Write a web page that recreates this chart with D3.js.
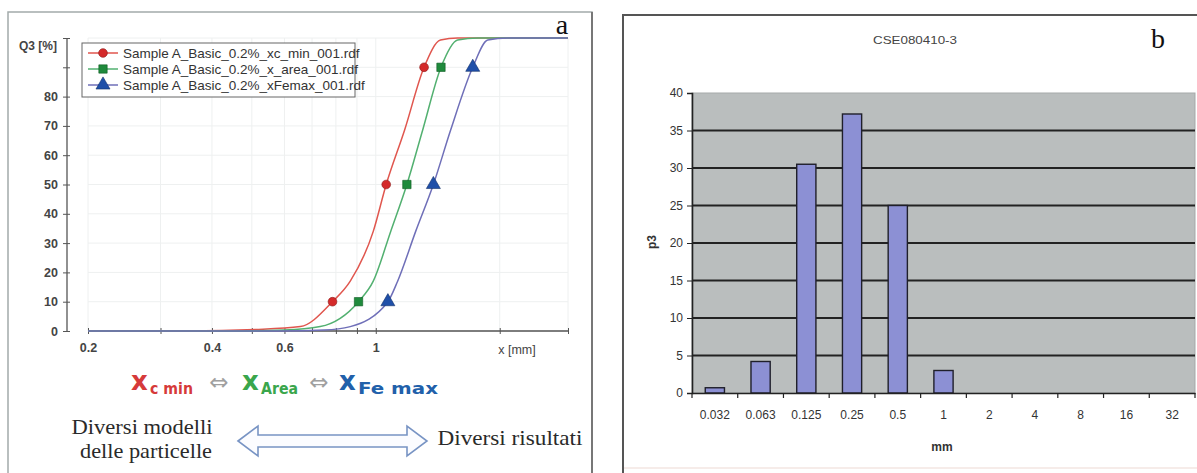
<!DOCTYPE html>
<html>
<head>
<meta charset="utf-8">
<script src="https://cdn.jsdelivr.net/npm/d3@7"></script>
<style>
  body { margin: 0; background: #fff; }
  svg { display: block; }
</style>
</head>
<body>
<div id="chart"></div>
<script>
// ---- panel a : cumulative curves Q3 vs x (log) ----
var legendNames = ["Sample A_Basic_0.2%_xc_min_001.rdf",
                   "Sample A_Basic_0.2%_x_area_001.rdf",
                   "Sample A_Basic_0.2%_xFemax_001.rdf"];
var q3Ticks = [0, 10, 20, 30, 40, 50, 60, 70, 80, 90, 100];
var sizeTicks = [0.2, 0.3, 0.4, 0.5, 0.6, 0.7, 0.8, 0.9, 1, 2, 2.93];
var sizeLabels = [0.2, 0.4, 0.6, 1];

// [x mm, Q3 %]
var xcMin = [[0.2, 0], [0.35, 0], [0.51, 0.5], [0.656, 1.5], [0.785, 10], [0.867, 17], [0.986, 34],
             [1.06, 50], [1.175, 68.6], [1.31, 90], [1.436, 99.3], [1.58, 100], [2.93, 100]];
var xArea = [[0.2, 0], [0.443, 0], [0.6, 0.3], [0.733, 1.5], [0.908, 10], [0.986, 17], [1.087, 34],
             [1.19, 50], [1.30, 68.6], [1.44, 90], [1.58, 99.3], [1.77, 100], [2.93, 100]];
var xFemax = [[0.2, 0], [0.586, 0], [0.75, 0.3], [0.867, 1.5], [1.07, 10], [1.13, 17], [1.25, 34],
              [1.38, 50], [1.52, 68.6], [1.72, 90], [1.87, 99.3], [2.09, 100], [2.93, 100]];
var markerQ3 = [10, 50, 90];
var markXcMin = [0.785, 1.06, 1.31];
var markXArea = [0.908, 1.19, 1.44];
var markXFemax = [1.07, 1.38, 1.72];

// ---- panel b : histogram p3 ----
var binLabels = ["0.032", "0.063", "0.125", "0.25", "0.5", "1", "2", "4", "8", "16", "32"];
var p3Values = [0.7, 4.2, 30.5, 37.2, 25, 3, 0, 0, 0, 0, 0];
var p3Ticks = [0, 5, 10, 15, 20, 25, 30, 35, 40];

var W = 1197, H = 473;
var svg = d3.select("#chart").append("svg")
    .attr("width", W)
    .attr("height", H);

var sans = "'Liberation Sans', Arial, sans-serif";
var serif = "'Liberation Serif', 'Times New Roman', serif";

// frames
svg.append("rect").attr("x", 8).attr("y", 12).attr("width", 584).attr("height", 480)
    .attr("fill", "#fff").attr("stroke", "#a3abab").attr("stroke-width", 1.5);
svg.append("line").attr("x1", 592).attr("x2", 592).attr("y1", 12).attr("y2", H)
    .attr("stroke", "#777").attr("stroke-width", 2);
svg.append("rect").attr("x", 623).attr("y", 15).attr("width", 600).attr("height", 480)
    .attr("fill", "#fff").attr("stroke", "#555").attr("stroke-width", 2);
svg.append("line").attr("x1", 624).attr("x2", W).attr("y1", 468).attr("y2", 468)
    .attr("stroke", "#f3e6e2").attr("stroke-width", 1.5);

// ================= panel a =================
var x = d3.scaleLog().domain([0.2, 2.93]).range([88, 568]);
var y = d3.scaleLinear().domain([0, 100]).range([331, 38]);

var ga = svg.append("g");

// faint grid
ga.append("g").selectAll("line").data(sizeTicks).enter().append("line")
    .attr("x1", function(d) { return x(d); }).attr("x2", function(d) { return x(d); })
    .attr("y1", y(100)).attr("y2", y(0))
    .attr("stroke", "#eef0f0");
ga.append("g").selectAll("line").data(q3Ticks).enter().append("line")
    .attr("x1", x(0.2)).attr("x2", x(2.93))
    .attr("y1", function(d) { return y(d); }).attr("y2", function(d) { return y(d); })
    .attr("stroke", "#eef0f0");

// axes
var yAxA = ga.append("g").attr("transform", "translate(67,0)")
    .call(d3.axisLeft(y).tickValues(q3Ticks).tickSize(4).tickPadding(5)
        .tickFormat(function(d) { return d <= 80 ? d : ""; }));
var xAxA = ga.append("g").attr("transform", "translate(0,331)")
    .call(d3.axisBottom(x).tickValues(sizeTicks).tickSize(3).tickPadding(9)
        .tickFormat(function(d) { return sizeLabels.indexOf(d) >= 0 ? d : ""; }));
[yAxA, xAxA].forEach(function(a) {
    a.select(".domain").attr("stroke", "#555").attr("stroke-width", 1.3);
    a.selectAll(".tick line").attr("stroke", "#555");
    a.selectAll("text").attr("font-family", sans).attr("font-size", 12.5)
        .attr("fill", "#444").attr("font-weight", "bold");
});
yAxA.selectAll(".tick line").attr("x1", 3);
yAxA.select(".domain").attr("d", "M0,331V38");
xAxA.selectAll(".tick line").attr("y1", -3);
xAxA.select(".domain").attr("d", "M88,0H568");

ga.append("text").attr("x", 38).attr("y", 50).attr("text-anchor", "middle")
    .attr("font-family", sans).attr("font-size", 12).attr("fill", "#444").attr("font-weight", "bold")
    .text("Q3 [%]");
ga.append("text").attr("x", 517).attr("y", 354).attr("text-anchor", "middle")
    .attr("font-family", sans).attr("font-size", 12.5).attr("fill", "#444")
    .text("x [mm]");

var series = [
    {pts: xcMin, marks: markXcMin, line: "#e0564e", fill: "#d42a2a", stroke: "#8a1a1a", shape: d3.symbolCircle, size: 60},
    {pts: xArea, marks: markXArea, line: "#52b070", fill: "#1f8a3c", stroke: "#0e5a22", shape: d3.symbolSquare, size: 70},
    {pts: xFemax, marks: markXFemax, line: "#6f6fb8", fill: "#1f4fa8", stroke: "#12306a", shape: d3.symbolTriangle, size: 85}
];

var line = d3.line()
    .x(function(d) { return x(d[0]); })
    .y(function(d) { return y(d[1]); })
    .curve(d3.curveMonotoneX);

series.forEach(function(s) {
    ga.append("path").attr("d", line(s.pts))
        .attr("fill", "none").attr("stroke", s.line).attr("stroke-width", 1.5);
});
series.forEach(function(s) {
    ga.append("g").selectAll("path").data(s.marks).enter().append("path")
        .attr("d", d3.symbol().type(s.shape).size(s.size))
        .attr("transform", function(d, i) { return "translate(" + x(d) + "," + y(markerQ3[i]) + ")"; })
        .attr("fill", s.fill).attr("stroke", s.stroke).attr("stroke-width", 0.6);
});

// legend
var lg = ga.append("g");
lg.append("rect").attr("x", 82).attr("y", 43).attr("width", 273).attr("height", 54)
    .attr("fill", "#fff").attr("stroke", "#666").attr("stroke-width", 1);
series.forEach(function(s, i) {
    var ly = 53 + i * 16;
    lg.append("line").attr("x1", 88).attr("x2", 118).attr("y1", ly).attr("y2", ly)
        .attr("stroke", s.line).attr("stroke-width", 1.5);
    lg.append("path").attr("d", d3.symbol().type(s.shape).size(s.size)())
        .attr("transform", "translate(103," + ly + ")")
        .attr("fill", s.fill).attr("stroke", s.stroke).attr("stroke-width", 0.6);
    lg.append("text").attr("x", 123).attr("y", ly + 5)
        .attr("font-family", sans).attr("font-size", 13.5).attr("fill", "#333")
        .text(legendNames[i]);
});

ga.append("text").attr("x", 562).attr("y", 34).attr("text-anchor", "middle")
    .attr("font-family", serif).attr("font-size", 28).attr("fill", "#111").text("a");

// formula line: x_c min <=> x_Area <=> x_Fe max
var bold = "'DejaVu Sans', Verdana, sans-serif";
var parts = [
    {x: 131, main: "x", sub: "c min", subLen: 43, col: "#d63a3a"},
    {x: 242, main: "x", sub: "Area", subLen: 37, col: "#3aa64c"},
    {x: 339, main: "x", sub: "Fe max", subLen: 80, col: "#2160aa"}
];
parts.forEach(function(p) {
    ga.append("text").attr("x", p.x).attr("y", 390)
        .attr("font-family", bold).attr("font-weight", "bold").attr("font-size", 26)
        .attr("fill", p.col).text(p.main);
    ga.append("text").attr("x", p.x + 19).attr("y", 394)
        .attr("font-family", bold).attr("font-weight", "bold").attr("font-size", 15)
        .attr("fill", p.col).attr("textLength", p.subLen).attr("lengthAdjust", "spacingAndGlyphs")
        .text(p.sub);
});
[219, 319].forEach(function(cx) {
    ga.append("text").attr("x", cx).attr("y", 390).attr("text-anchor", "middle")
        .attr("font-family", bold).attr("font-size", 23).attr("fill", "#a0a0a0").text("\u21D4");
});

var serifTexts = [
    {x: 142, y: 434, len: 141, t: "Diversi modelli"},
    {x: 146, y: 458, len: 132, t: "delle particelle"},
    {x: 510, y: 445, len: 145, t: "Diversi risultati"}
];
serifTexts.forEach(function(s) {
    ga.append("text").attr("x", s.x - s.len / 2).attr("y", s.y)
        .attr("font-family", serif).attr("font-size", 21).attr("fill", "#2a2a2a")
        .attr("textLength", s.len).attr("lengthAdjust", "spacingAndGlyphs")
        .text(s.t);
});

ga.append("path")
    .attr("d", "M238,441L258,426L258,435L407,435L407,426L427,441L407,456L407,447L258,447L258,456Z")
    .attr("fill", "#fbfcff").attr("stroke", "#7894c4").attr("stroke-width", 1.6);

// ================= panel b =================
var xb = d3.scaleBand().domain(binLabels).range([692, 1195]).paddingInner(0.58).paddingOuter(0.29);
var yb = d3.scaleLinear().domain([0, 40]).range([393, 93]);
var gb = svg.append("g");

gb.append("rect").attr("x", 692).attr("y", yb(40)).attr("width", 1195 - 692).attr("height", yb(0) - yb(40))
    .attr("fill", "#babebe").attr("stroke", "#a5a9a9");

gb.append("g").selectAll("line").data(p3Ticks.filter(function(d) { return d > 0 && d < 40; }))
    .enter().append("line")
    .attr("x1", 692).attr("x2", 1195)
    .attr("y1", function(d) { return yb(d); }).attr("y2", function(d) { return yb(d); })
    .attr("stroke", "#222").attr("stroke-width", 1.8);

gb.append("g").selectAll("rect").data(p3Values).enter().append("rect")
    .attr("x", function(d, i) { return xb(binLabels[i]); })
    .attr("width", xb.bandwidth())
    .attr("y", function(d) { return yb(d); })
    .attr("height", function(d) { return yb(0) - yb(d); })
    .attr("fill", "#8c90d4").attr("stroke", "#1f1f2a").attr("stroke-width", 1.4);

var yAxB = gb.append("g").attr("transform", "translate(692,0)")
    .call(d3.axisLeft(yb).tickValues(p3Ticks).tickSize(5).tickPadding(4));
var xAxB = gb.append("g").attr("transform", "translate(0,393)")
    .call(d3.axisBottom(xb).tickSize(0).tickPadding(17));
[yAxB, xAxB].forEach(function(a) {
    a.select(".domain").attr("stroke", "#222").attr("stroke-width", 1.6);
    a.selectAll(".tick line").attr("stroke", "#222");
    a.selectAll("text").attr("font-family", sans).attr("font-size", 12).attr("fill", "#333");
});
// category boundary ticks
var step = xb.step();
var bounds = binLabels.map(function(d) { return xb(d) - (step - xb.bandwidth()) / 2; }).concat([1195]);
xAxB.append("g").selectAll("line").data(bounds).enter().append("line")
    .attr("x1", function(d) { return d; }).attr("x2", function(d) { return d; })
    .attr("y1", 0).attr("y2", 5).attr("stroke", "#222").attr("stroke-width", 1.2);

gb.append("text").attr("transform", "translate(656,242) rotate(-90)").attr("text-anchor", "middle")
    .attr("font-family", sans).attr("font-size", 12).attr("font-weight", "bold").attr("fill", "#333")
    .text("p3");
gb.append("text").attr("x", 942).attr("y", 451).attr("text-anchor", "middle")
    .attr("font-family", sans).attr("font-size", 12).attr("font-weight", "bold").attr("fill", "#333")
    .text("mm");
gb.append("text").attr("x", 873).attr("y", 44)
    .attr("font-family", sans).attr("font-size", 11.5).attr("fill", "#444")
    .attr("textLength", 84).attr("lengthAdjust", "spacingAndGlyphs")
    .text("CSE080410-3");
gb.append("text").attr("x", 1158).attr("y", 48).attr("text-anchor", "middle")
    .attr("font-family", serif).attr("font-size", 28).attr("fill", "#111").text("b");
</script>
</body>
</html>
